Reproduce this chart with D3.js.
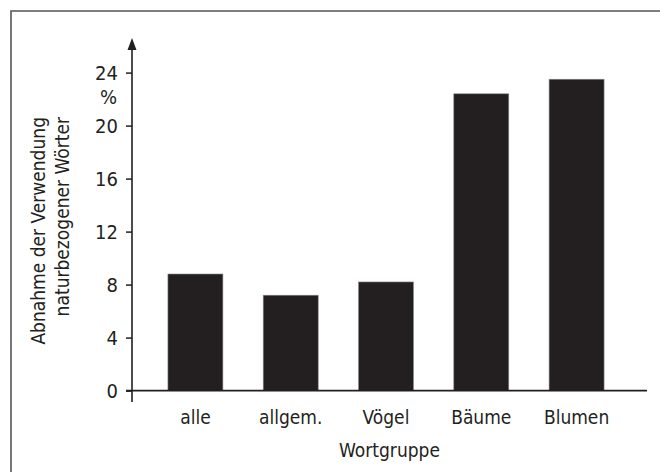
<!DOCTYPE html>
<html>
<head>
<meta charset="utf-8">
<script src="https://cdn.jsdelivr.net/npm/d3@7"></script>
<style>
  html, body { margin: 0; padding: 0; background: #fff; }
  svg { display: block; }
  text { font-family: "DejaVu Sans Condensed", "DejaVu Sans", sans-serif; font-stretch: condensed; fill: #231f20; }
</style>
</head>
<body>
<svg id="chart" width="660" height="472"></svg>
<script>
const categories = ["alle", "allgem.", "Vögel", "Bäume", "Blumen"];
const values = [8.8, 7.2, 8.2, 22.4, 23.5];
const yTicks = [0, 4, 8, 12, 16, 20, 24];
const yLabelLines = ["Abnahme der Verwendung", "naturbezogener Wörter"];
const xTitle = "Wortgruppe";
const unitLabel = "%";

const svg = d3.select("#chart");
const ink = "#231f20";
const fs = 19;
const fsTick = 20;
const ff = '"DejaVu Sans Condensed", "DejaVu Sans", sans-serif';

// frame
svg.append("path")
  .attr("d", "M11,472V11H660")
  .attr("fill", "none")
  .attr("stroke", "#555")
  .attr("stroke-width", 1.6);

const x = d3.scaleBand().domain(categories).range([132, 640]).paddingInner(0.423).paddingOuter(0.377);
const y = d3.scaleLinear().domain([0, 24]).range([390.6, 72.6]);

// bars
svg.append("g").selectAll("rect").data(values).join("rect")
  .attr("x", (d, i) => x(categories[i]))
  .attr("width", x.bandwidth())
  .attr("y", d => y(d))
  .attr("height", d => y(0) - y(d))
  .attr("fill", ink)
  .attr("stroke", "#8a8a8a")
  .attr("stroke-width", 0.6);

// y axis ticks
const yAxis = d3.axisLeft(y).tickValues(yTicks).tickSize(6).tickPadding(8).tickFormat(d3.format("d"));
const gy = svg.append("g").attr("transform", "translate(132,0)").call(yAxis);
gy.select(".domain").remove();
gy.selectAll(".tick line").attr("stroke", ink).attr("stroke-width", 1.5);
gy.selectAll(".tick text").style("font-size", fsTick + "px").style("font-family", ff).attr("fill", ink);

// axis lines
svg.append("line").attr("x1", 132).attr("x2", 132).attr("y1", 48).attr("y2", 402)
  .attr("stroke", ink).attr("stroke-width", 1.6);
svg.append("path").attr("d", "M132,38L127.5,50L136.5,50Z").attr("fill", ink);
svg.append("line").attr("x1", 126).attr("x2", 647).attr("y1", y(0)).attr("y2", y(0))
  .attr("stroke", ink).attr("stroke-width", 1.6);

// x labels
svg.append("g").selectAll("text").data(categories).join("text")
  .attr("x", d => x(d) + x.bandwidth() / 2)
  .attr("y", 424)
  .attr("text-anchor", "middle")
  .style("font-size", fs + "px")
  .text(d => d);

// x title
svg.append("text").attr("x", 389.5).attr("y", 457).attr("text-anchor", "middle")
  .style("font-size", fs + "px").text(xTitle);

// unit label
svg.append("text").attr("x", 117).attr("y", 104).attr("text-anchor", "end")
  .style("font-size", fsTick + "px").text(unitLabel);

// y title (rotated, end-aligned at top)
yLabelLines.forEach((t, i) => {
  svg.append("text")
    .attr("transform", `translate(${45 + i * 24},117) rotate(-90)`)
    .attr("text-anchor", "end")
    .style("font-size", fs + "px")
    .text(t);
});
</script>
</body>
</html>
